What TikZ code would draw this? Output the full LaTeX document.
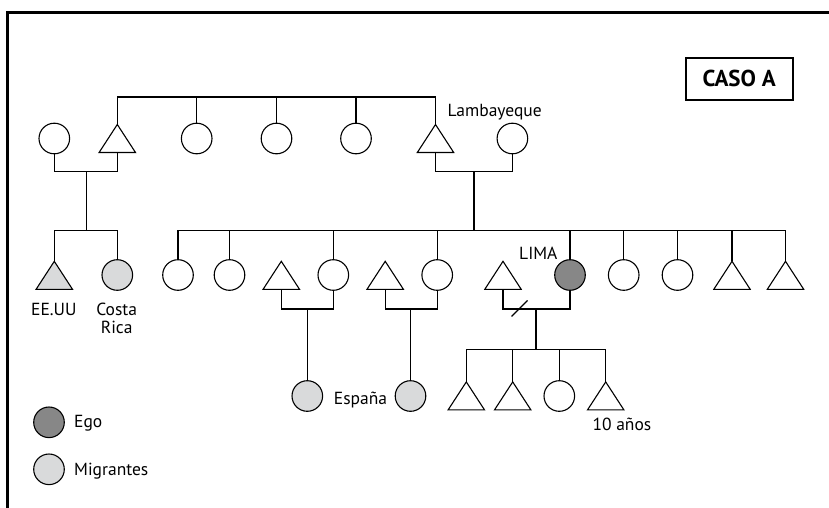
\documentclass[tikz,border=0pt]{standalone}
\usepackage{fontspec}
\setmainfont{PT Sans}
\usetikzlibrary{calc}
\definecolor{egofill}{HTML}{878787}
\definecolor{migfill}{HTML}{D9DADB}
\begin{document}
\begin{tikzpicture}[x=1pt,y=-1pt,
  kin/.style={line width=1.15pt},
  outline/.style={draw=black, line width=1.1pt},
  fem/.style={circle, outline, minimum size=30.6pt, inner sep=0pt, fill=#1},
  fem/.default=white,
  male/.style={rectangle, minimum width=36pt, minimum height=27.6pt, inner sep=0pt},
  lbl/.style={font=\fontsize{17.5}{18.3}\selectfont, inner sep=0pt},
]
\useasboundingbox (0,0) rectangle (829,508);
% frame
\draw[line width=2.6pt] (7.5,510) -- (7.5,12.7) -- (831,12.7);

% generation I
\node[fem]  (w0) at (54.3,138.5) {};
\node[male] (a1) at (117.3,138.5) {};
\node[fem]  (a2) at (196.7,138.5) {};
\node[fem]  (a3) at (276.5,138.5) {};
\node[fem]  (a4) at (356,138.5) {};
\node[male] (a5) at (435.5,138.5) {};
\node[fem]  (w5) at (512.4,138.5) {};
\coordinate (barI) at (0,97);
\coordinate (c1) at (86.3,171.5);
\coordinate (c5) at (474,171.5);

% generation II
\node[male] (b1) at (54.3,275.3) {};
\node[fem=migfill] (b2) at (117.3,275) {};
\node[fem]  (h1) at (178,275) {};
\node[fem]  (h2) at (229.5,275) {};
\node[male] (s3) at (281.3,275.3) {};
\node[fem]  (h3) at (333.3,275) {};
\node[male] (s4) at (385.2,275.3) {};
\node[fem]  (h4) at (437.2,275) {};
\node[male] (s5) at (503,275.3) {};
\node[fem=egofill] (ego) at (570,275) {};
\node[fem]  (h6) at (623.7,275) {};
\node[fem]  (h7) at (677.5,275) {};
\node[male] (h8) at (732,275.3) {};
\node[male] (h9) at (785.5,275.3) {};
\coordinate (barII) at (0,230.7);
\coordinate (m3) at (307.3,309);
\coordinate (m4) at (410.5,309);
\coordinate (m5) at (536,309);

% generation III
\node[fem=migfill] (r3) at (307.3,396) {};
\node[fem=migfill] (r4) at (410.5,396) {};
\node[male] (k1) at (466.3,395.9) {};
\node[male] (k2) at (512.7,395.9) {};
\node[fem]  (k3) at (559.3,396) {};
\node[male] (k4) at (605.7,395.9) {};
\coordinate (barIII) at (0,349.3);

% legend
\node[fem=egofill] (legego) at (49,422.3) {};
\node[fem=migfill] (legmig) at (49,469.3) {};

% triangles for the male nodes
\foreach \n/\c in {a1/white,a5/white,b1/migfill,s3/white,s4/white,s5/white,
                   h8/white,h9/white,k1/white,k2/white,k4/white}
  \draw[outline, fill=\c, line join=miter]
    (\n.north) -- (\n.south east) -- (\n.south west) -- cycle;

% sibling lines
\draw[kin] (a1.north) -- (a1.north |- barI) -- (a5.north |- barI) -- (a5.north);
\foreach \n in {a2,a3,a4} \draw[kin] (\n.north) -- (\n.north |- barI);
\draw[kin] (b1.north) -- (b1.north |- barII) -- (b2.north |- barII) -- (b2.north);
\draw[kin] (h1.north) -- (h1.north |- barII) -- (h9.north |- barII) -- (h9.north);
\foreach \n in {h2,h3,h4,ego,h6,h7,h8} \draw[kin] (\n.north) -- (\n.north |- barII);
\draw[kin] (k1.north) -- (k1.north |- barIII) -- (k4.north |- barIII) -- (k4.north);
\foreach \n in {k2,k3} \draw[kin] (\n.north) -- (\n.north |- barIII);

% couples and descent
\draw[kin] (w0.south) -- (w0.south |- c1) -- (a1.south |- c1) -- (a1.south);
\draw[kin] (c1) -- (c1 |- barII);
\draw[kin] (a5.south) -- (a5.south |- c5) -- (w5.south |- c5) -- (w5.south);
\draw[kin] (c5) -- (c5 |- barII);
\draw[kin] (s3.south) -- (s3.south |- m3) -- (h3.south |- m3) -- (h3.south);
\draw[kin] (m3) -- (r3.north);
\draw[kin] (s4.south) -- (s4.south |- m4) -- (h4.south |- m4) -- (h4.south);
\draw[kin] (m4) -- (r4.north);
\draw[kin] (s5.south) -- (s5.south |- m5) -- (ego.south |- m5) -- (ego.south);
\draw[kin] (m5) -- (m5 |- barIII);
% separation mark
\draw[kin] ($(s5.south |- m5)!0.5!(m5)$) ++(-8,7.5) -- ++(16,-16);

% labels
\node[lbl, anchor=base west] (tLam) at (447.5,116.7) {Lambayeque};
\node[lbl, anchor=base] (tEE) at (53.8,315) {EE.UU};
\node[lbl, anchor=base, align=center] (tCR) at (116.7,333.3) {Costa\\Rica};
\node[lbl, anchor=base west] (tEsp) at (333.7,404) {España};
\node[lbl, anchor=base west] (tLima) at (519,259.3) {LIMA};
\node[lbl, anchor=base west] (tAnos) at (592.3,430) {10 años};
\node[lbl, anchor=base west] (tEgo) at (74,427.5) {Ego};
\node[lbl, anchor=base west] (tMig) at (74,475) {Migrantes};

% case title
\node[draw, line width=1.6pt, minimum width=107pt, minimum height=42pt, inner sep=0pt,
      font=\fontsize{23}{26}\bfseries\selectfont] (caso) at (739.2,78.8) {CASO A};
\end{tikzpicture}
\end{document}
